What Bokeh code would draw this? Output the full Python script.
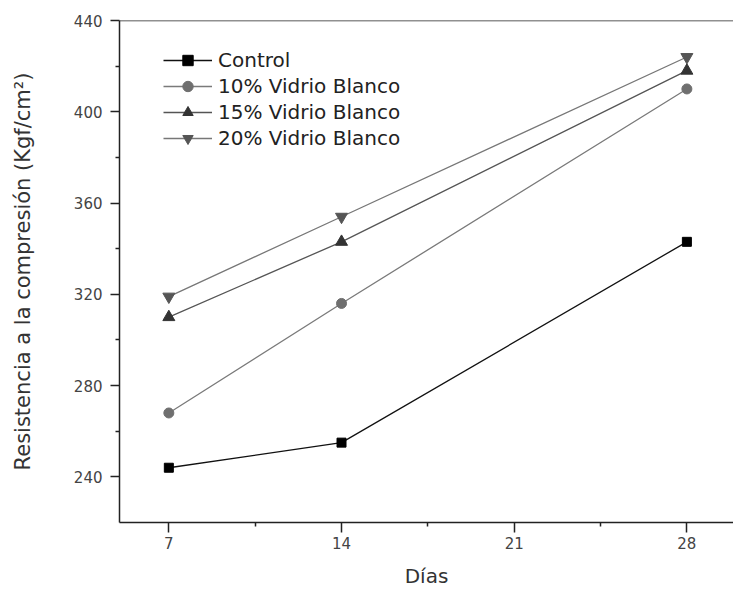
from bokeh.plotting import figure
from bokeh.models import Range1d, FixedTicker, Legend, LegendItem, Span
from bokeh.embed import file_html
from bokeh.resources import INLINE

# Data
dias = [7, 14, 28]
control = [244, 255, 343]
vidrio10 = [268, 316, 410]
vidrio15 = [310, 343, 418]
vidrio20 = [319, 354, 424]
series_names = ["Control", "10% Vidrio Blanco", "15% Vidrio Blanco", "20% Vidrio Blanco"]
x_ticks = [7, 14, 21, 28]
y_ticks = [240, 280, 320, 360, 400, 440]

FONT = "DejaVu Sans"

p = figure(width=733, height=590, output_backend="svg", toolbar_location=None,
           x_range=Range1d(5, 29.89), y_range=Range1d(220, 440),
           min_border_left=119, min_border_top=20, min_border_bottom=67, min_border_right=0)
p.outline_line_color = None
p.xgrid.grid_line_color = None
p.ygrid.grid_line_color = None
p.background_fill_color = "white"
p.border_fill_color = "white"

# top frame line
p.add_layout(Span(location=440, dimension="width", line_color="#222222", line_width=1.5))

for ax in (p.xaxis[0], p.yaxis[0]):
    ax.axis_line_color = "#222222"
    ax.axis_line_width = 1.5
    ax.major_tick_line_color = "#222222"
    ax.minor_tick_line_color = "#222222"
    ax.major_tick_line_width = 1.5
    ax.minor_tick_line_width = 1.5
    ax.major_tick_in = 0
    ax.major_tick_out = 9
    ax.minor_tick_in = 0
    ax.minor_tick_out = 4
    ax.major_label_text_font = FONT
    ax.major_label_text_font_size = "15px"
    ax.major_label_text_color = "#444444"
    ax.axis_label_text_font = FONT
    ax.axis_label_text_font_size = "20px"
    ax.axis_label_text_font_style = "normal"
    ax.axis_label_text_color = "#333333"

p.xaxis.ticker = FixedTicker(ticks=x_ticks, minor_ticks=[10.5, 17.5, 24.5])
p.yaxis.ticker = FixedTicker(ticks=y_ticks, minor_ticks=[260, 300, 340, 380, 420])
p.xaxis.axis_label = "Días"
p.yaxis.axis_label = "Resistencia a la compresión (Kgf/cm²)"
p.yaxis.axis_label_text_font_size = "21px"
p.xaxis.major_tick_out = 10
p.xaxis.major_label_standoff = 4
p.yaxis.major_label_standoff = 8
p.xaxis.axis_label_standoff = 12
p.yaxis.axis_label_standoff = 36

styles = [
    (control, "square", 9, "#000000", "#111111"),
    (vidrio10, "circle", 10, "#6f6f6f", "#7a7a7a"),
    (vidrio15, "triangle", 12, "#333333", "#555555"),
    (vidrio20, "inverted_triangle", 12, "#555555", "#777777"),
]
items = []
for name, (vals, marker, size, mcol, lcol) in zip(series_names, styles):
    l = p.line(dias, vals, line_color=lcol, line_width=1.3)
    s = p.scatter(dias, vals, marker=marker, size=size, fill_color=mcol, line_color=mcol)
    items.append(LegendItem(label=name, renderers=[l, s]))

legend = Legend(items=items, location=(44, 371))
legend.background_fill_alpha = 0
legend.border_line_color = None
legend.padding = 0
legend.margin = 0
legend.spacing = 0
legend.glyph_width = 49
legend.glyph_height = 26
legend.label_height = 20
legend.label_standoff = 6
legend.label_text_font = FONT
legend.label_text_font_size = "20px"
legend.label_text_color = "#222222"
p.add_layout(legend)

open("out.html", "w").write(file_html(p, INLINE))
